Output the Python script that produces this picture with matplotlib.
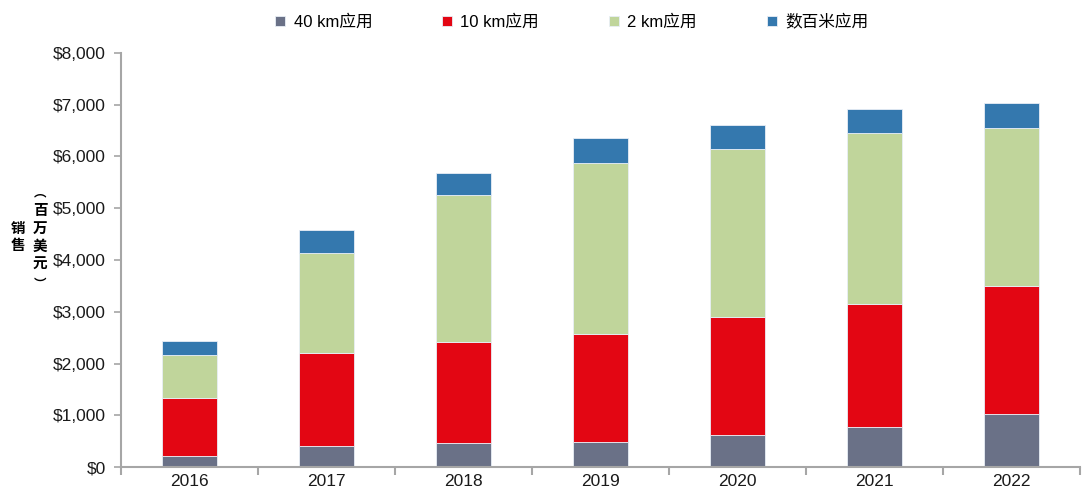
import numpy as np
import matplotlib.pyplot as plt
from matplotlib.ticker import FuncFormatter, FixedLocator

plt.rcParams['font.family'] = ['Liberation Sans', 'Noto Sans CJK SC', 'DejaVu Sans']

years = ['2016', '2017', '2018', '2019', '2020', '2021', '2022']
km40 = [210, 405, 465, 490, 612, 767, 1018]
km10 = [1123, 1798, 1951, 2075, 2293, 2383, 2474]
km2 = [831, 1932, 2841, 3305, 3246, 3310, 3053]
m100 = [271, 445, 425, 494, 464, 458, 495]

series = [('40 km应用', km40, '#6a7187'),
          ('10 km应用', km10, '#e30613'),
          ('2 km应用', km2, '#c0d59b'),
          ('数百米应用', m100, '#3478ae')]

W, H = 1085, 498
fig = plt.figure(figsize=(W / 100, H / 100), dpi=100)
ax = fig.add_axes([0.1115, 0.0622, 0.884, 0.8314])

x = np.arange(len(years))
bottom = np.zeros(len(years))
for name, vals, col in series:
    ax.bar(x, vals, 0.4, bottom=bottom, color=col, label=name,
           edgecolor='#e8eef6', linewidth=0.6)
    bottom += np.array(vals)

ax.set_xlim(-0.5, len(years) - 0.5)
ax.set_ylim(0, 8000)
ax.set_yticks(np.arange(0, 8001, 1000))
ax.yaxis.set_major_formatter(FuncFormatter(lambda v, p: '${:,.0f}'.format(v)))
ax.set_xticks(x)
ax.set_xticklabels(years)
ax.xaxis.set_minor_locator(FixedLocator(np.arange(-0.5, len(years), 1)))

for s in ['top', 'right']:
    ax.spines[s].set_visible(False)
for s in ['left', 'bottom']:
    ax.spines[s].set_color('#a6a6a6')
    ax.spines[s].set_linewidth(1.5)

ax.tick_params(axis='x', which='major', length=0, labelsize=12.5, pad=5, colors='#1a1a1a')
ax.tick_params(axis='x', which='minor', length=6, width=1.5, color='#a6a6a6')
ax.tick_params(axis='y', length=5, width=1.2, color='#a6a6a6', labelsize=12.5, pad=6,
               labelcolor='#1a1a1a')

# vertical y-axis label, one glyph per position (pixel rows from the top)
def ytxt(ch, px, py, family=None, size=10.5):
    fig.text(px / W, 1 - py / H, ch, fontsize=size, fontweight='bold', ha='center',
             va='center', family=family or plt.rcParams['font.family'])

for ch, py in [('销', 229), ('售', 246)]:
    ytxt(ch, 18, py)
for ch, py in [('百', 211), ('万', 229), ('美', 247), ('元', 265)]:
    ytxt(ch, 40, py)
# vertical-form brackets: ink sits toward the neighbouring glyph, so offset the box
ytxt('︵', 40, 193, ['Noto Sans CJK SC'], 9)
ytxt('︶', 40, 284, ['Noto Sans CJK SC'], 9)

fig.legend(loc='center', bbox_to_anchor=(0.527, 0.956), ncol=4, frameon=False,
           fontsize=12, handlelength=0.6, handleheight=0.6, handletextpad=0.5,
           columnspacing=4.2)

fig.savefig('out.png', dpi=100)
